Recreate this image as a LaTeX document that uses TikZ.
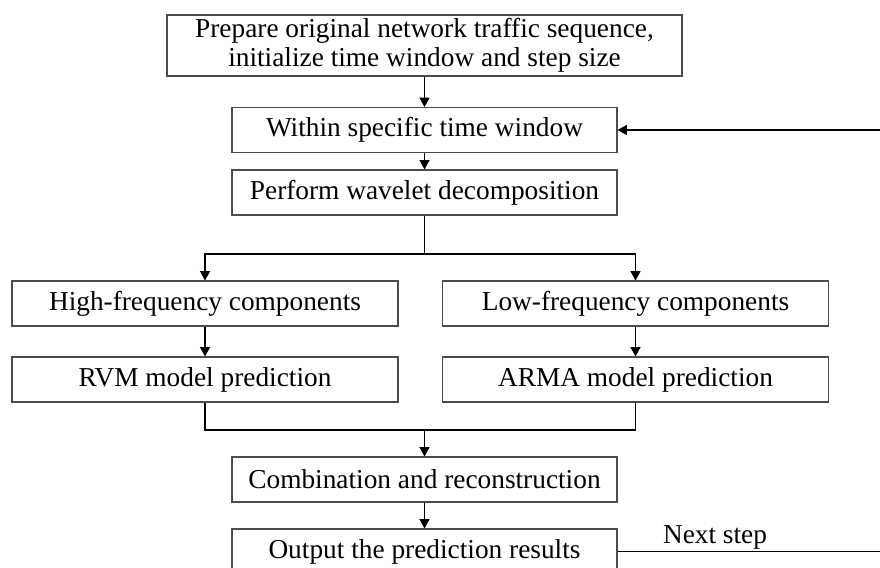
\documentclass[tikz,border=0pt]{standalone}
\usepackage{fontspec}
\setmainfont{Liberation Serif}
\usetikzlibrary{arrows.meta}
\tikzset{
	box/.style={draw=black!70, line width=0.8pt, minimum height=33.75pt, inner sep=0.75pt, font=\fontsize{20.5}{22}\selectfont, align=center},
	arr/.style={-{Triangle[length=7pt,width=7.5pt]}, line width=0.8pt},
	line/.style={line width=0.8pt},
}
\begin{document}
\begin{tikzpicture}[x=0.75pt,y=0.75pt,yscale=-1,xscale=1]
		\clip (0,0) rectangle (880,567);
		\node[box, minimum width=386.25pt, minimum height=45.75pt] (prep) at (424.5,45.5) {Prepare original network traffic sequence,\\initialize time window and step size};
		\node[box, minimum width=288.75pt] (window) at (424.5,130) {Within specific time window};
		\node[box, minimum width=288.75pt] (wavelet) at (424.5,192.5) {Perform wavelet decomposition};
		\node[box, minimum width=289.5pt] (high) at (205,303.5) {High-frequency components};
		\node[box, minimum width=289.5pt] (low) at (635.5,303.5) {Low-frequency components};
		\node[box, minimum width=289.5pt] (rvm) at (205,379.5) {RVM model prediction};
		\node[box, minimum width=289.5pt] (arma) at (635.5,379.5) {ARMA model prediction};
		\node[box, minimum width=288.75pt] (combine) at (424.5,479.5) {Combination and reconstruction};
		\node[box, minimum width=288.75pt] (output) at (424.5,551.5) {Output the prediction results};
		\node[font=\fontsize{20.5}{22}\selectfont, inner sep=0.75pt] (nextlbl) at (715,537) {Next step};
		\coordinate (split) at (424.5,254);
		\coordinate (merge) at (424.5,430);
		\coordinate (loop) at (895,551.5);
		\draw[arr] (prep) -- (window);
		\draw[arr] (window) -- (wavelet);
		\draw[line] (wavelet) -- (split);
		\draw[arr] (split) -| (high);
		\draw[arr] (split) -| (low);
		\draw[arr] (high) -- (rvm);
		\draw[arr] (low) -- (arma);
		\draw[line] (rvm) |- (merge) -| (arma);
		\draw[arr] (merge) -- (combine);
		\draw[arr] (combine) -- (output);
		\draw[arr] (output.east) -- (loop) |- (window.east);
\end{tikzpicture}
\end{document}
